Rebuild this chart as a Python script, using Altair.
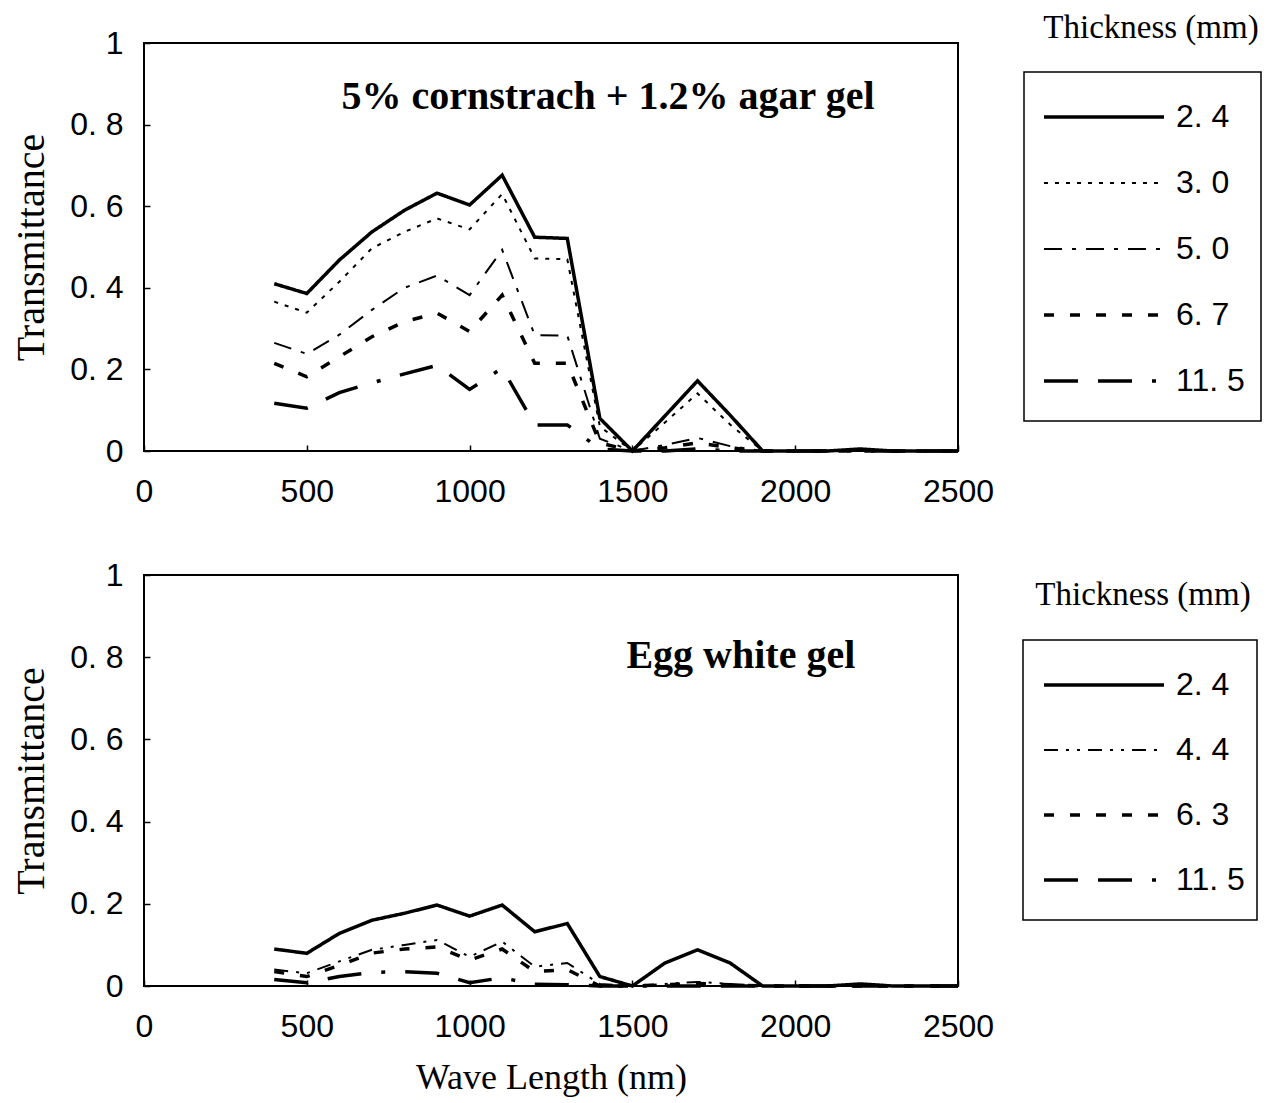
import altair as alt
import pandas as pd

# ---------------- data ----------------
wavelength = [400, 500, 600, 700, 800, 900, 1000, 1100, 1200, 1300, 1400,
              1500, 1600, 1700, 1800, 1900, 2000, 2100, 2200, 2300, 2400, 2500]

# 5% cornstarch + 1.2% agar gel, thickness (mm)
agar_series = ["2.4", "3.0", "5.0", "6.7", "11.5"]
agar_24 = [0.41, 0.386, 0.468, 0.537, 0.59, 0.632, 0.603, 0.676, 0.524, 0.521, 0.08,
           0.0, 0.086, 0.172, 0.088, 0.0, 0.0, 0.0, 0.005, 0.0, 0.0, 0.0]
agar_30 = [0.366, 0.339, 0.415, 0.497, 0.537, 0.57, 0.543, 0.63, 0.472, 0.47, 0.06,
           0.0, 0.07, 0.141, 0.065, 0.0, 0.0, 0.0, 0.003, 0.0, 0.0, 0.0]
agar_50 = [0.265, 0.238, 0.285, 0.346, 0.40, 0.43, 0.382, 0.493, 0.284, 0.283, 0.03,
           0.0, 0.015, 0.032, 0.012, 0.0, 0.0, 0.0, 0.0, 0.0, 0.0, 0.0]
agar_67 = [0.215, 0.182, 0.231, 0.28, 0.317, 0.338, 0.293, 0.382, 0.215, 0.215, 0.02,
           0.0, 0.008, 0.02, 0.008, 0.0, 0.0, 0.0, 0.0, 0.0, 0.0, 0.0]
agar_115 = [0.117, 0.105, 0.143, 0.167, 0.189, 0.21, 0.151, 0.203, 0.064, 0.064, 0.005,
            0.0, 0.0, 0.005, 0.0, 0.0, 0.0, 0.0, 0.0, 0.0, 0.0, 0.0]

# Egg white gel, thickness (mm)
egg_series = ["2.4", "4.4", "6.3", "11.5"]
egg_24 = [0.09, 0.0795, 0.128, 0.16, 0.177, 0.197, 0.17, 0.197, 0.132, 0.152, 0.023,
          0.0, 0.056, 0.088, 0.056, 0.0, 0.0, 0.0, 0.005, 0.0, 0.0, 0.0]
egg_44 = [0.04, 0.031, 0.06, 0.088, 0.1, 0.112, 0.071, 0.108, 0.047, 0.056, 0.005,
          0.0, 0.005, 0.01, 0.005, 0.0, 0.0, 0.0, 0.0, 0.0, 0.0, 0.0]
egg_63 = [0.035, 0.023, 0.05, 0.08, 0.09, 0.095, 0.063, 0.09, 0.035, 0.04, 0.0,
          0.0, 0.003, 0.006, 0.003, 0.0, 0.0, 0.0, 0.0, 0.0, 0.0, 0.0]
egg_115 = [0.016, 0.008, 0.023, 0.033, 0.035, 0.031, 0.008, 0.02, 0.004, 0.003, 0.0,
           0.0, 0.0, 0.0, 0.0, 0.0, 0.0, 0.0, 0.0, 0.0, 0.0, 0.0]

x_ticks = [0, 500, 1000, 1500, 2000, 2500]
y_ticks = [0, 0.2, 0.4, 0.6, 0.8, 1]
legend_title = "Thickness (mm)"


def long_df(series, arrays):
    rows = []
    for s, arr in zip(series, arrays):
        for w, v in zip(wavelength, arr):
            rows.append({"wl": w, "value": v, "series": s})
    return pd.DataFrame(rows)


agar_df = long_df(agar_series, [agar_24, agar_30, agar_50, agar_67, agar_115])
egg_df = long_df(egg_series, [egg_24, egg_44, egg_63, egg_115])

NUMF = "'Liberation Sans', Arial, sans-serif"
SERIF = "'Liberation Serif', 'DejaVu Serif', serif"


def panel(df, series, dashes, thin, note, note_x, note_y, g, xtitle, h):
    thin_pred = alt.FieldOneOfPredicate(field="series", oneOf=thin)
    dash = alt.StrokeDash("series:N", scale=alt.Scale(domain=series, range=dashes), legend=None)
    sw = alt.condition(thin_pred, alt.value(2), alt.value(3.5))

    xaxis = alt.Axis(values=x_ticks, tickSize=6, offset=-6, domain=False, grid=False,
                     format="d",
                     labelPadding=25, labelFont=NUMF, labelFontSize=32, labelColor="black",
                     tickColor="black", tickWidth=1.5, labelFlush=False,
                     titleFont=SERIF, titleFontSize=36, titleFontWeight="normal",
                     titleColor="black", titlePadding=18)
    yaxis = alt.Axis(values=y_ticks, tickSize=6, offset=-6, domain=False, grid=False,
                     labelPadding=21, labelFont=NUMF, labelFontSize=32, labelColor="black",
                     tickColor="black", tickWidth=1.5, labelFlush=False,
                     labelExpr="datum.value == 0 ? '0' : datum.value == 1 ? '1' : replace(datum.label, '.', '. ')",
                     titleFont=SERIF, titleFontSize=40, titleFontWeight="normal",
                     titleColor="black", titlePadding=18)
    xs = alt.Scale(domain=[0, 2500], nice=False, zero=False)
    ys = alt.Scale(domain=[0, 1], nice=False)

    lines = alt.Chart(df).mark_line(color="black", strokeCap="butt", strokeJoin="miter").encode(
        x=alt.X("wl:Q", scale=xs, axis=xaxis, title=xtitle),
        y=alt.Y("value:Q", scale=ys, axis=yaxis, title="Transmittance"),
        strokeDash=dash,
        strokeWidth=sw,
        detail="series:N",
    )
    note_layer = alt.Chart(pd.DataFrame({"t": [note]})).mark_text(
        font=SERIF, fontSize=40, fontWeight="bold", color="black", align="center",
        baseline="middle"
    ).encode(x=alt.datum(note_x), y=alt.datum(note_y), text="t:N")
    plot = alt.layer(lines, note_layer)

    leg_df = pd.DataFrame({"series": series})
    ly = alt.Y("series:N", scale=alt.Scale(type="point", domain=series,
                                            range=[g["y0"], g["y1"]], padding=0), axis=None)
    leg_base = alt.Chart(leg_df).transform_calculate(label="replace(datum.series, '.', '. ')")
    leg_lines = leg_base.mark_rule(color="black", strokeCap="butt").encode(
        x=alt.value(g["lx1"]), x2=alt.value(g["lx2"]), y=ly, strokeDash=dash, strokeWidth=sw)
    leg_text = leg_base.mark_text(align="left", baseline="middle", font=NUMF,
                                  fontSize=32, color="black").encode(
        x=alt.value(g["tx"]), y=ly, text="label:N")
    info = alt.Chart(pd.DataFrame({"t": [legend_title]}))
    leg_box = info.mark_rect(fillOpacity=0, stroke="black", strokeWidth=1.5).encode(
        x=alt.value(g["bx1"]), x2=alt.value(g["bx2"]), y=alt.value(g["by1"]), y2=alt.value(g["by2"]))
    leg_title = info.mark_text(font=SERIF, fontSize=33, color="black", align="center",
                               baseline="middle").encode(
        x=alt.value(g["ttx"]), y=alt.value(g["tty"]), text="t:N")
    legend = alt.layer(leg_box, leg_lines, leg_text, leg_title)

    return alt.layer(plot, legend).resolve_scale(y="independent").properties(width=814, height=h)


top_geom = dict(y0=74, y1=338, lx1=900, lx2=1020, tx=1032, bx1=880, bx2=1117,
                by1=29, by2=378, ttx=1007, tty=-15)
bot_geom = dict(y0=110, y1=305, lx1=900, lx2=1020, tx=1032, bx1=879, bx2=1113,
                by1=65, by2=345, ttx=999, tty=20)

top = panel(agar_df, agar_series,
            [[1, 0], [4, 7], [18, 10, 4, 10], [10, 16], [34, 20, 34, 20, 4, 20]],
            ["3.0", "5.0"], "5% cornstrach + 1.2% agar gel", 1425, 0.868, top_geom, None, 408)
bottom = panel(egg_df, egg_series,
               [[1, 0], [14, 8, 3, 8, 3, 8], [10, 16], [34, 20, 34, 20, 4, 20]],
               ["4.4"], "Egg white gel", 1833, 0.803, bot_geom, "Wave Length (nm)", 411)

chart = alt.vconcat(top, bottom, spacing=50).resolve_scale(
    strokeDash="independent"
).configure_view(
    stroke="black", strokeWidth=2
).properties(background="white", padding={"left": 10, "top": 11, "right": 5, "bottom": 2})

chart.save("out.html", embed_options={"renderer": "svg", "actions": False})
